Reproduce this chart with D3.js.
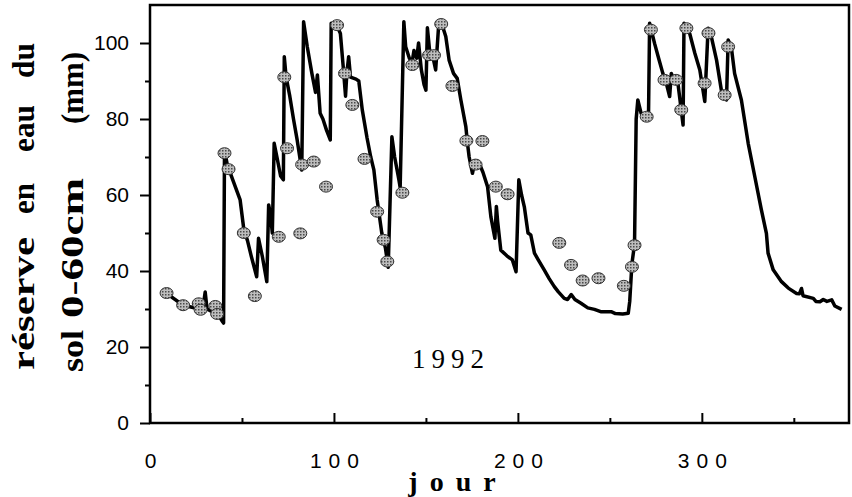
<!DOCTYPE html>
<html>
<head>
<meta charset="utf-8">
<script src="https://cdn.jsdelivr.net/npm/d3@7"></script>
<style>
	body { margin: 0; background: #fff; }
	svg { display: block; }
</style>
</head>
<body>
<div id="vis-container"></div>
<script>
// simulated soil water reserve (line), day of year / mm
var simDays = [9, 18, 27, 29, 30, 31, 33, 36, 37, 39, 40,
	40.5, 42, 45, 49, 51, 53, 55, 58, 59, 61, 63.5, 64.5, 65.5, 66.5, 67.5, 69, 71, 72.5,
	73, 74, 76, 78, 80, 82.5, 83.5, 85.5, 88, 90, 91, 92.5, 94, 96, 98,
	98.5, 101.5, 103.5, 105, 106.3, 107, 108, 109, 112, 113.5, 115.4, 118, 120, 121.7, 123.5, 126, 128, 129.5,
	131.5, 133, 135.3, 136, 138, 139, 141, 142.5, 143.5, 145, 146, 147.5, 149, 150,
	150.8, 152, 153.5, 155.3, 157, 159, 160.8, 162.6, 165, 167, 169, 171.7, 172.6, 173.5, 175.3, 176.5,
	179, 181, 183.5, 185.3, 187.5, 188.3, 189, 190.7, 194, 197, 199,
	200.5, 202, 203.5, 205.5, 207, 209, 211, 214.3, 217, 219.8, 222, 225.2, 227, 229, 231, 234.3, 238,
	241.6, 245, 250.7, 253, 257, 260,
	260.8, 262, 263.4, 264.3, 265.2, 267, 269, 271, 271.6, 274.3, 276.5, 278.8, 280.7, 282.5, 283.4, 285, 287, 289.8,
	290.3, 293.4, 296.2, 298.9, 301.6, 303.4, 305, 308, 310.6, 313.4, 314.3, 316, 317.8, 321.5, 325.2, 328.8,
	332.4, 335.1, 336, 338.8, 343.3, 347, 351.5, 353, 354.2, 355, 360.6, 362, 364.2, 366, 368, 370.6, 372.3, 376];
var simValues = [34.1, 31, 30, 31, 34.5, 30, 29.5, 30.8, 28.5, 27, 26.3,
	71.8, 68, 64, 58.7, 51, 48, 44, 38.5, 48.6, 44, 37.2, 57.4, 55, 50, 73.6, 70, 65, 64,
	96.4, 91, 86, 80, 74.5, 66.6, 105.6, 99, 92, 87, 91.6, 81.5, 80, 77, 74.5,
	105.2, 104.7, 102.5, 94, 86, 92, 96.4, 91, 90.5, 90, 82.4, 75, 70, 66.6, 58.7, 50, 46, 41,
	75.3, 70, 64, 62, 105.6, 99, 96, 95, 98, 96, 100, 93, 89, 87.6,
	104, 98, 97, 92.9, 105.2, 104.5, 101.7, 95.5, 92, 90.7, 85, 78, 73.6, 70, 65.7, 68.5,
	68.3, 66, 62.2, 54.3, 48.6, 57, 53, 45.5, 44, 42.9, 39.8,
	64, 60, 56.9, 50, 49.5, 44.7, 43, 40.3, 38, 35.9, 34.5, 32.8, 32.5, 33.8, 32.5, 31.5, 30.3,
	29.9, 29.3, 29.3, 28.8, 28.7, 28.9,
	32, 42, 47, 80, 85, 81.5, 80.6, 80.6, 105.2, 99.9, 96, 92, 89.4, 85.9, 92, 90, 89.4, 78.4,
	105.2, 102.5, 97.3, 92.9, 84.6, 103.9, 102, 95.5, 87.6, 85, 100.8, 99, 92, 85, 73.6, 64.8,
	56, 49.9, 44.7, 40.3, 37.2, 35.5, 34.1, 34, 35.4, 33.5, 32.8, 32, 31.9, 32.5, 32, 32.4, 30.8, 29.9];

// measured reserve (grey dots)
var obsDays = [9, 18, 26.5, 27.5, 35.5, 36.5, 40.5, 42.7, 51, 57, 70, 73, 74.5, 81.7, 82.7, 89, 95.7,
	101.7, 106, 110, 116.6, 123.5, 127, 129, 137.2, 142.6, 151.7, 154.4, 158.3, 164.4, 172, 177, 180.7,
	188, 194.4, 222.5, 228.9, 235.2, 243.8, 257.6, 262, 263.4, 270, 272.3, 279.7, 286,
	288.8, 291.6, 301.5, 303.6, 312.4, 314.3];
var obsValues = [34.2, 31, 31.5, 29.8, 30.8, 28.7, 71, 66.8, 50, 33.4, 49, 91, 72.3, 49.9, 68, 68.8, 62.2,
	104.7, 92, 83.7, 69.5, 55.6, 48.2, 42.5, 60.6, 94.2, 96.8, 96.8, 105, 88.7, 74.3, 68, 74.2,
	62.2, 60.2, 47.4, 41.6, 37.5, 38.1, 36.1, 41.1, 46.8, 80.6, 103.5, 90.3, 90.3,
	82.4, 103.9, 89.4, 102.6, 86.3, 99];

// ticks
var xMajorTicks = [0, 100, 200, 300];
var xMinorTicks = [50, 150, 250, 350];
var yMajorTicks = [0, 20, 40, 60, 80, 100];
var yMinorTicks = [10, 30, 50, 70, 90];

// axis title words, each with the span (in px along the axis) it covers
var yTitle1 = ["réserve", "en", "eau", "du"];
var yTitle1Span = [[237, 370], [183, 214], [105, 152], [43, 78]];
var yTitle2 = ["sol", "0-60cm", "(mm)"];
var yTitle2Span = [[330, 372], [178, 318], [52, 124]];
var xTitle = "jour";
var yearLabel = "1992";

var chart = (function() {

	var width = 852;
	var height = 497;
	// plot box
	var x0 = 150, x1 = 849, y0 = 5, y1 = 423;

	var svg = d3.select("#vis-container")
		.append("svg")
		.attr("width", width)
		.attr("height", height);

	// stipple pattern for the dots
	var pat = svg.append("defs").append("pattern")
		.attr("id", "stipple")
		.attr("width", 3)
		.attr("height", 3)
		.attr("patternUnits", "userSpaceOnUse");
	pat.append("rect").attr("width", 3).attr("height", 3).attr("fill", "#bdbdbd");
	pat.append("rect").attr("width", 1.5).attr("height", 1.5).attr("fill", "#4a4a4a");

	var x = d3.scaleLinear().domain([0, 380]).range([x0, x1]);
	var y = d3.scaleLinear().domain([0, 110]).range([y1, y0]);

	// y axis, ticks outward
	svg.append("g")
		.attr("transform", "translate(" + x0 + ",0)")
		.call(d3.axisLeft(y).tickValues(yMajorTicks).tickSize(10).tickPadding(11));
	svg.append("g")
		.attr("transform", "translate(" + x0 + ",0)")
		.call(d3.axisLeft(y).tickValues(yMinorTicks).tickSize(5).tickFormat(""));

	// x axis, ticks inward
	var xaxis = svg.append("g")
		.attr("transform", "translate(0," + y1 + ")")
		.call(d3.axisBottom(x).tickValues(xMajorTicks).tickSize(-10).tickPadding(30));
	svg.append("g")
		.attr("transform", "translate(0," + y1 + ")")
		.call(d3.axisBottom(x).tickValues(xMinorTicks).tickSize(-5).tickFormat(""));

	svg.selectAll(".domain").remove();
	svg.selectAll(".tick line").attr("stroke", "#000").attr("stroke-width", 2);
	svg.selectAll(".tick text")
		.attr("fill", "#000")
		.style("font-family", "'Liberation Sans', Arial, sans-serif")
		.style("font-size", "21px");
	xaxis.selectAll(".tick text")
		.style("letter-spacing", "7px")
		.attr("dx", "3.5px");

	// frame
	svg.append("rect")
		.attr("x", x0)
		.attr("y", y0)
		.attr("width", x1 - x0)
		.attr("height", y1 - y0)
		.attr("fill", "none")
		.attr("stroke", "#000")
		.attr("stroke-width", 2.5);

	// simulated line
	var line = d3.line()
		.x(function(d) { return x(simDays[d]); })
		.y(function(d) { return y(simValues[d]); });
	svg.append("path")
		.attr("d", line(d3.range(simDays.length)))
		.attr("fill", "none")
		.attr("stroke", "#000")
		.attr("stroke-width", 3.5)
		.attr("stroke-linejoin", "round");

	// measured dots
	svg.append("g").selectAll("ellipse")
		.data(d3.range(obsDays.length))
		.enter().append("ellipse")
		.attr("cx", function(d) { return x(obsDays[d]); })
		.attr("cy", function(d) { return y(obsValues[d]); })
		.attr("rx", 6.5)
		.attr("ry", 5.5)
		.attr("fill", "url(#stipple)")
		.attr("stroke", "#333")
		.attr("stroke-width", 1);

	// year label
	svg.append("text")
		.attr("x", 451)
		.attr("y", 368)
		.attr("text-anchor", "middle")
		.style("font-family", "'Liberation Serif', 'Times New Roman', serif")
		.style("font-size", "27px")
		.style("letter-spacing", "6px")
		.text(yearLabel);

	// x title
	svg.append("text")
		.attr("x", 458)
		.attr("y", 491)
		.attr("text-anchor", "middle")
		.style("font-family", "'Liberation Serif', 'Times New Roman', serif")
		.style("font-weight", "bold")
		.style("font-size", "28px")
		.style("letter-spacing", "12px")
		.text(xTitle);

	// y title, two rotated lines, word by word
	function titleLine(words, spans, baseX) {
		for (var i = 0; i < words.length; ++i) {
			var s = spans[i];
			svg.append("text")
				.attr("transform", "translate(" + baseX + "," + s[1] + ") rotate(-90)")
				.attr("textLength", s[1] - s[0])
				.attr("lengthAdjust", "spacingAndGlyphs")
				.style("font-family", "'Liberation Serif', 'Times New Roman', serif")
				.style("font-weight", "bold")
				.style("font-size", "32px")
				.text(words[i]);
		}
	}
	titleLine(yTitle1, yTitle1Span, 34);
	titleLine(yTitle2, yTitle2Span, 83);

	return svg;
})();
</script>
</body>
</html>
